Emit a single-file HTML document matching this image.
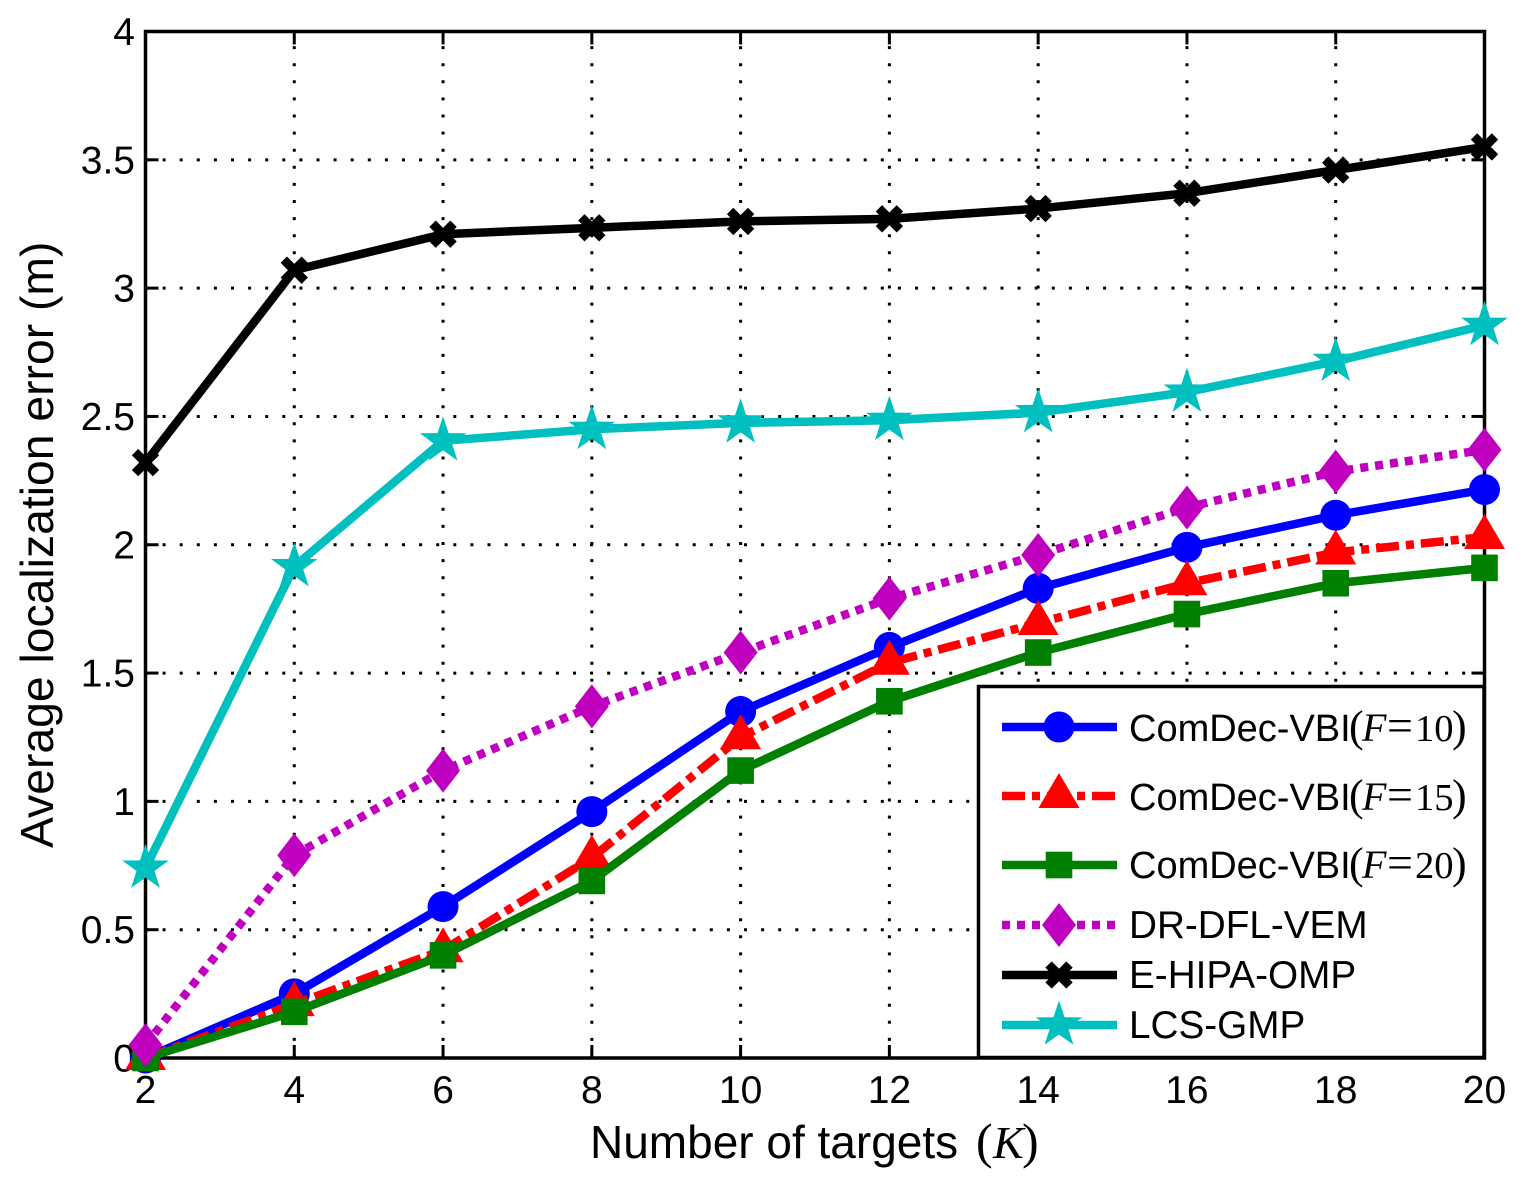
<!DOCTYPE html>
<html lang="en">
<head>
<meta charset="utf-8">
<title>Average localization error vs number of targets</title>
<style>
html,body{margin:0;padding:0;background:#fff;}
svg{display:block;}
text{font-family:"Liberation Sans",sans-serif;fill:#000;}
.math{font-family:"Liberation Serif",serif;}
.it{font-family:"Liberation Serif",serif;font-style:italic;}
.p{font-family:"Liberation Serif",serif;font-size:44px;}
.f{font-family:"Liberation Serif",serif;font-style:italic;font-size:40px;}
.e{font-family:"Liberation Serif",serif;font-size:46px;}
.n{font-family:"Liberation Serif",serif;font-size:38.5px;}
</style>
</head>
<body>
<svg id="chart" xmlns="http://www.w3.org/2000/svg" width="1532" height="1188" viewBox="0 0 1532 1188">
  <g id="grid"></g>
  <g id="series"></g>
  <g id="axes"></g>
  <text x="590" y="1158" font-size="46">Number of targets <tspan class="math" font-size="50" x="976">(</tspan><tspan class="it" x="993">K</tspan><tspan class="math" font-size="50" x="1022">)</tspan></text>
  <text transform="translate(53,848) rotate(-90)" font-size="46.3">Average localization error (m)</text>
  <g id="legend">
    <rect x="978.5" y="686.5" width="505.5" height="371" fill="#fff" stroke="#000" stroke-width="3.5"></rect>
    <g id="legend-keys"></g>
    <text x="1129" y="741" font-size="38">ComDec-VBI<tspan class="p" x="1349">(</tspan><tspan class="f" x="1362">F</tspan><tspan class="e" x="1387">=</tspan><tspan class="n" x="1415">10</tspan><tspan class="p" x="1452">)</tspan></text>
    <text x="1129" y="810" font-size="38">ComDec-VBI<tspan class="p" x="1349">(</tspan><tspan class="f" x="1362">F</tspan><tspan class="e" x="1387">=</tspan><tspan class="n" x="1415">15</tspan><tspan class="p" x="1452">)</tspan></text>
    <text x="1129" y="878" font-size="38">ComDec-VBI<tspan class="p" x="1349">(</tspan><tspan class="f" x="1362">F</tspan><tspan class="e" x="1387">=</tspan><tspan class="n" x="1415">20</tspan><tspan class="p" x="1452">)</tspan></text>
    <text x="1129" y="938" font-size="38.7">DR-DFL-VEM</text>
    <text x="1129" y="988" font-size="38.7">E-HIPA-OMP</text>
    <text x="1129" y="1038" font-size="38.7">LCS-GMP</text>
  </g>
</svg>
<script>
var categories = [2, 4, 6, 8, 10, 12, 14, 16, 18, 20];
var xTickLabels = ['2', '4', '6', '8', '10', '12', '14', '16', '18', '20'];
var yTickValues = [0, 0.5, 1, 1.5, 2, 2.5, 3, 3.5, 4];
var yTickLabels = ['0', '0.5', '1', '1.5', '2', '2.5', '3', '3.5', '4'];
var comdecF10 = [0.0, 0.25, 0.59, 0.96, 1.35, 1.60, 1.83, 1.99, 2.115, 2.215];
var comdecF15 = [0.0, 0.21, 0.42, 0.78, 1.25, 1.54, 1.695, 1.85, 1.97, 2.03];
var comdecF20 = [0.0, 0.18, 0.40, 0.69, 1.12, 1.39, 1.58, 1.73, 1.85, 1.91];
var drDflVem = [0.05, 0.79, 1.12, 1.37, 1.58, 1.79, 1.96, 2.145, 2.285, 2.37];
var eHipaOmp = [2.32, 3.07, 3.21, 3.235, 3.26, 3.27, 3.31, 3.37, 3.46, 3.55];
var lcsGmp = [0.74, 1.915, 2.405, 2.45, 2.475, 2.485, 2.515, 2.595, 2.715, 2.855];

var NS = 'http://www.w3.org/2000/svg';
var plot = {left: 145.5, right: 1484.5, top: 31.5, bottom: 1058};
var xMin = 2, xMax = 20, yMin = 0, yMax = 4;
function xScale(v) { return plot.left + (v - xMin) / (xMax - xMin) * (plot.right - plot.left); }
function yScale(v) { return plot.bottom - (v - yMin) / (yMax - yMin) * (plot.bottom - plot.top); }

function mk(tag, parent, props) {
  var el = document.createElementNS(NS, tag);
  for (var k in props) el.setAttribute(k, props[k]);
  parent.appendChild(el);
  return el;
}

function starPoints(cx, cy) {
  var pts = [], R = 24.5, r = 9.5;
  for (var i = 0; i < 10; i++) {
    var a = -Math.PI / 2 + i * Math.PI / 5;
    var q = i % 2 ? r : R;
    pts.push((cx + q * Math.cos(a)).toFixed(1) + ',' + (cy + q * Math.sin(a)).toFixed(1));
  }
  return pts.join(' ');
}

function drawMarker(parent, kind, cx, cy, color, name) {
  var el;
  if (kind === 'circle') {
    el = mk('circle', parent, {cx: cx, cy: cy, r: 15.5, fill: color});
  } else if (kind === 'triangle') {
    el = mk('polygon', parent, {points: cx + ',' + (cy - 23) + ' ' + (cx + 20.5) + ',' + (cy + 12) + ' ' + (cx - 20.5) + ',' + (cy + 12), fill: color});
  } else if (kind === 'square') {
    el = mk('rect', parent, {x: cx - 13.3, y: cy - 13.3, width: 26.6, height: 26.6, fill: color});
  } else if (kind === 'diamond') {
    el = mk('polygon', parent, {points: cx + ',' + (cy - 22) + ' ' + (cx + 17) + ',' + cy + ' ' + cx + ',' + (cy + 22) + ' ' + (cx - 17) + ',' + cy, fill: color});
  } else if (kind === 'x') {
    el = mk('path', parent, {d: 'M' + (cx - 10.5) + ' ' + (cy - 10.5) + 'L' + (cx + 10.5) + ' ' + (cy + 10.5) + 'M' + (cx + 10.5) + ' ' + (cy - 10.5) + 'L' + (cx - 10.5) + ' ' + (cy + 10.5), stroke: color, 'stroke-width': 9, fill: 'none'});
  } else {
    el = mk('polygon', parent, {points: starPoints(cx, cy), fill: color});
  }
  
  
}

var seriesList = [
  {id: 'comdec-f10', values: comdecF10, color: '#0000ff', dash: '', marker: 'circle', keyY: 727},
  {id: 'comdec-f15', values: comdecF15, color: '#ff0000', dash: '23 7 8 7', marker: 'triangle', keyY: 796},
  {id: 'comdec-f20', values: comdecF20, color: '#007f00', dash: '', marker: 'square', keyY: 865},
  {id: 'dr-dfl-vem', values: drDflVem, color: '#bf00bf', dash: '8 7', marker: 'diamond', keyY: 925},
  {id: 'e-hipa-omp', values: eHipaOmp, color: '#000000', dash: '', marker: 'x', keyY: 975},
  {id: 'lcs-gmp', values: lcsGmp, color: '#00bfbf', dash: '', marker: 'star', keyY: 1025}
];

var gridG = document.getElementById('grid');
var axesG = document.getElementById('axes');
var seriesG = document.getElementById('series');
var keysG = document.getElementById('legend-keys');

categories.forEach(function (c, i) {
  var x = xScale(c);
  if (i > 0 && i < categories.length - 1) {
    var g = mk('line', gridG, {x1: x, x2: x, y1: plot.bottom, y2: plot.top, stroke: '#000', 'stroke-width': 3, 'stroke-dasharray': '3 14.1'});
    
    
    var t1 = mk('line', axesG, {x1: x, x2: x, y1: plot.bottom, y2: plot.bottom - 13, stroke: '#000', 'stroke-width': 3});
    
    
    var t2 = mk('line', axesG, {x1: x, x2: x, y1: plot.top, y2: plot.top + 13, stroke: '#000', 'stroke-width': 3});
    
    
  }
  var lab = mk('text', axesG, {x: x, y: 1103, 'font-size': 39, 'text-anchor': 'middle'});
  lab.textContent = xTickLabels[i];
  
  
});

yTickValues.forEach(function (v, i) {
  var y = yScale(v);
  if (i > 0 && i < yTickValues.length - 1) {
    var g = mk('line', gridG, {x1: plot.left, x2: plot.right, y1: y, y2: y, stroke: '#000', 'stroke-width': 3, 'stroke-dasharray': '3 14.1'});
    
    
    var t1 = mk('line', axesG, {x1: plot.left, x2: plot.left + 13, y1: y, y2: y, stroke: '#000', 'stroke-width': 3});
    
    
    var t2 = mk('line', axesG, {x1: plot.right, x2: plot.right - 13, y1: y, y2: y, stroke: '#000', 'stroke-width': 3});
    
    
  }
  var lab = mk('text', axesG, {x: 135, y: y + 13.5, 'font-size': 39, 'text-anchor': 'end'});
  lab.textContent = yTickLabels[i];
  
  
});

var frame = mk('rect', axesG, {x: plot.left, y: plot.top, width: plot.right - plot.left, height: plot.bottom - plot.top, fill: 'none', stroke: '#000', 'stroke-width': 3.5});


seriesG.parentNode.insertBefore(axesG, seriesG);

seriesList.forEach(function (s) {
  var g = mk('g', seriesG, {});
  
  
  var pts = s.values.map(function (v, i) { return xScale(categories[i]).toFixed(2) + ',' + yScale(v).toFixed(2); }).join(' ');
  var line = mk('polyline', g, {points: pts, fill: 'none', stroke: s.color, 'stroke-width': 8.5, 'stroke-linejoin': 'miter'});
  if (s.dash) line.setAttribute('stroke-dasharray', s.dash);
  
  
  s.values.forEach(function (v, i) {
    drawMarker(g, s.marker, xScale(categories[i]), yScale(v), s.color, 'point-' + s.id);
  });

  var kg = mk('g', keysG, {});
  
  
  var kl = mk('line', kg, {x1: 1002, x2: 1117, y1: s.keyY, y2: s.keyY, stroke: s.color, 'stroke-width': 8.5});
  if (s.dash) kl.setAttribute('stroke-dasharray', s.dash);
  
  
  drawMarker(kg, s.marker, 1059, s.keyY, s.color, 'legend-marker-' + s.id);
});
</script>
</body>
</html>
